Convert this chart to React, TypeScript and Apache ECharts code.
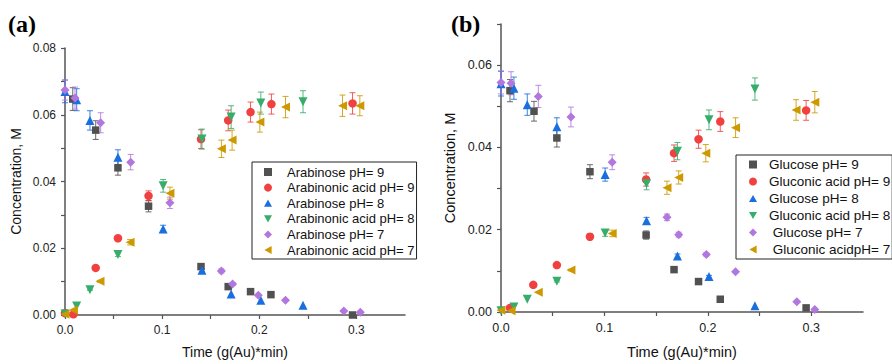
import React, { useEffect, useRef } from "react";
import * as echarts from "echarts";

const FONT = 'Arial, "Liberation Sans", sans-serif';
const COLORS = ["#515151", "#F14040", "#1A6FDF", "#37AD6B", "#B177DE", "#CC9900"];
const SYMBOLS = [
  "rect",
  "circle",
  "path://M5,0 L10,9 L0,9 Z",
  "path://M0,0 L10,0 L5,9 Z",
  "diamond",
  "path://M9,0 L9,10 L0,5 Z",
];
const SIZES = [7.5, 8.5, 9, 9, 9, 9];

// ---- Panel (a) : Arabinose ----
const namesA = [
  "Arabinose pH= 9",
  "Arabinonic acid pH= 9",
  "Arabinose pH= 8",
  "Arabinonic acid pH= 8",
  "Arabinose pH= 7",
  "Arabinonic acid pH= 7",
];
const tA9s = [0.008, 0.0316, 0.0545, 0.086, 0.140, 0.168, 0.191, 0.212, 0.296];
const cA9s = [0.0647, 0.0554, 0.0441, 0.0326, 0.0145, 0.0085, 0.0070, 0.0061, 0.0000];
const eA9s = [0.0034, 0.0028, 0.0022, 0.0017, 0.0007, 0.0004, 0.0003, 0.0003, 0];

const tA9a = [0, 0.0086, 0.0316, 0.0545, 0.086, 0.140, 0.168, 0.191, 0.2125, 0.296];
const cA9a = [0.0006, 0.0002, 0.0141, 0.0230, 0.0357, 0.0527, 0.0583, 0.0608, 0.0632, 0.0634];
const eA9a = [0, 0, 0.0005, 0.0008, 0.0015, 0.0028, 0.0031, 0.0030, 0.0030, 0.0032];

const tA8s = [0, 0.012, 0.0257, 0.0545, 0.101, 0.141, 0.171, 0.2016, 0.245];
const cA8s = [0.0670, 0.0645, 0.0583, 0.0473, 0.0258, 0.0134, 0.0063, 0.0044, 0.0029];
const eA8s = [0.0034, 0.0033, 0.0029, 0.0022, 0.0011, 0.0004, 0, 0, 0];

const tA8a = [0, 0.012, 0.0257, 0.0545, 0.101, 0.141, 0.171, 0.2016, 0.245];
const cA8a = [0.0003, 0.0027, 0.0076, 0.0181, 0.0387, 0.0527, 0.0593, 0.0635, 0.0639];
const eA8a = [0, 0, 0.0002, 0.0006, 0.0019, 0.0030, 0.0034, 0.0033, 0.0033];

const tA7s = [0, 0.0103, 0.0367, 0.0676, 0.108, 0.161, 0.1725, 0.199, 0.227, 0.287, 0.304];
const cA7s = [0.0674, 0.0650, 0.0576, 0.0458, 0.0336, 0.0132, 0.0093, 0.0059, 0.0044, 0.0012, 0.0008];
const eA7s = [0.0030, 0.0033, 0.0030, 0.0023, 0.0017, 0.0006, 0.0004, 0, 0, 0, 0];

const tA7a = [0, 0.0086, 0.036, 0.067, 0.108, 0.161, 0.172, 0.2006, 0.227, 0.2857, 0.3035];
const cA7a = [0.0002, 0.0015, 0.0101, 0.0218, 0.0365, 0.0498, 0.0524, 0.0578, 0.0623, 0.0627, 0.0627];
const eA7a = [0, 0, 0.0003, 0.0008, 0.0018, 0.0026, 0.0030, 0.0030, 0.0032, 0.0032, 0.0030];

// ---- Panel (b) : Glucose ----
const namesB = [
  "Glucose pH= 9",
  "Gluconic acid pH= 9",
  "Glucose pH= 8",
  "Gluconic acid pH= 8",
  " Glucose pH= 7",
  " Gluconic acidpH= 7",
];
const tB9s = [0.0087, 0.0319, 0.054, 0.086, 0.1403, 0.1673, 0.191, 0.212, 0.295];
const cB9s = [0.0538, 0.0488, 0.0423, 0.0341, 0.0187, 0.0103, 0.0074, 0.0031, 0.0010];
const eB9s = [0.0027, 0.0024, 0.0022, 0.0017, 0.0010, 0, 0, 0, 0];

const tB9a = [0.0087, 0.0312, 0.054, 0.086, 0.1403, 0.1673, 0.191, 0.212, 0.295];
const cB9a = [0.0010, 0.0066, 0.0114, 0.0183, 0.0322, 0.0386, 0.0420, 0.0463, 0.0490];
const eB9a = [0.0005, 0, 0.0003, 0.0007, 0.0016, 0.0020, 0.0022, 0.0024, 0.0024];

const tB8s = [0, 0.0125, 0.0254, 0.054, 0.1007, 0.1407, 0.1706, 0.2011, 0.2455];
const cB8s = [0.0555, 0.0544, 0.0504, 0.0450, 0.0334, 0.0222, 0.0136, 0.0086, 0.0015];
const eB8s = [0.0030, 0.0027, 0.0026, 0.0022, 0.0016, 0.0008, 0.0005, 0.0003, 0];

const tB8a = [0, 0.0125, 0.0254, 0.054, 0.1007, 0.1407, 0.1706, 0.2011, 0.2455];
const cB8a = [0.0003, 0.0012, 0.0031, 0.0075, 0.0192, 0.0312, 0.0391, 0.0467, 0.0542];
const eB8a = [0, 0, 0, 0.0002, 0.0008, 0.0015, 0.0021, 0.0024, 0.0027];

const tB7s = [0, 0.0097, 0.0361, 0.0676, 0.1075, 0.1605, 0.1718, 0.1985, 0.2268, 0.286, 0.3034];
const cB7s = [0.0558, 0.0556, 0.0524, 0.0474, 0.0364, 0.0230, 0.0188, 0.0140, 0.0098, 0.0025, 0.0006];
const eB7s = [0.0028, 0.0028, 0.0027, 0.0024, 0.0018, 0.0008, 0.0006, 0.0004, 0, 0, 0];

const tB7a = [0, 0.0097, 0.036, 0.0676, 0.1075, 0.1605, 0.1718, 0.198, 0.2268, 0.2853, 0.3034];
const cB7a = [0.0004, 0.0003, 0.0048, 0.0102, 0.0191, 0.0302, 0.0327, 0.0386, 0.0448, 0.0491, 0.0510];
const eB7a = [0, 0, 0, 0.0002, 0.0008, 0.0016, 0.0016, 0.0021, 0.0024, 0.0025, 0.0026];

const panelA = [
  [tA9s, cA9s, eA9s],
  [tA9a, cA9a, eA9a],
  [tA8s, cA8s, eA8s],
  [tA8a, cA8a, eA8a],
  [tA7s, cA7s, eA7s],
  [tA7a, cA7a, eA7a],
];
const panelB = [
  [tB9s, cB9s, eB9s],
  [tB9a, cB9a, eB9a],
  [tB8s, cB8s, eB8s],
  [tB8a, cB8a, eB8a],
  [tB7s, cB7s, eB7s],
  [tB7a, cB7a, eB7a],
];

function buildSeries(panel: number[][][], names: string[], axisIndex: number) {
  const out: any[] = [];
  panel.forEach(([t, c, e], i) => {
    const color = COLORS[i];
    const errData = t
      .map((x, k) => [x, c[k] - e[k], c[k] + e[k], e[k]])
      .filter((d) => d[3] > 0);
    out.push({
      type: "custom",
      name: names[i] + "_err",
      xAxisIndex: axisIndex,
      yAxisIndex: axisIndex,
      z: 1,
      silent: true,
      encode: { x: 0, y: [1, 2] },
      data: errData,
      renderItem: (params: any, api: any) => {
        const x = api.value(0);
        const lo = api.value(1);
        const hi = api.value(2);
        const p1 = api.coord([x, hi]);
        const p2 = api.coord([x, lo]);
        const w = 3;
        const st = { stroke: color, lineWidth: 1, opacity: 0.85 };
        return {
          type: "group",
          children: [
            { type: "line", shape: { x1: p1[0], y1: p1[1], x2: p2[0], y2: p2[1] }, style: st },
            { type: "line", shape: { x1: p1[0] - w, y1: p1[1], x2: p1[0] + w, y2: p1[1] }, style: st },
            { type: "line", shape: { x1: p2[0] - w, y1: p2[1], x2: p2[0] + w, y2: p2[1] }, style: st },
          ],
        };
      },
    });
    out.push({
      type: "scatter",
      name: names[i],
      xAxisIndex: axisIndex,
      yAxisIndex: axisIndex,
      z: 3,
      symbol: SYMBOLS[i],
      symbolSize: SIZES[i],
      itemStyle: { color, opacity: 1 },
      data: t.map((x, k) => [x, c[k]]),
    });
  });
  return out;
}

function xAxis(gridIndex: number, fs: number, nameGap: number) {
  return {
    type: "value",
    gridIndex,
    min: 0,
    max: 0.35,
    interval: 0.05,
    name: "Time (g(Au)*min)",
    nameLocation: "middle",
    nameGap,
    nameTextStyle: { fontFamily: FONT, fontSize: fs + 2, color: "#111" },
    splitLine: { show: false },
    axisLine: { show: true, onZero: false, lineStyle: { color: "#555", width: 1.5 } },
    axisTick: { show: true, length: 4, lineStyle: { color: "#555", width: 1.2 } },
    axisLabel: {
      fontFamily: FONT,
      fontSize: fs,
      color: "#222",
      margin: 9,
      showMaxLabel: false,
      formatter: (v: number) => (Math.round(v * 100) % 10 === 0 ? v.toFixed(1) : ""),
    },
  };
}

function yAxis(gridIndex: number, max: number, fs: number, nameGap: number) {
  return {
    type: "value",
    gridIndex,
    min: 0,
    max,
    interval: 0.01,
    name: "Concentration, M",
    nameLocation: "middle",
    nameGap,
    nameTextStyle: { fontFamily: FONT, fontSize: fs + 2, color: "#111" },
    splitLine: { show: false },
    axisLine: { show: true, onZero: false, lineStyle: { color: "#555", width: 1.5 } },
    axisTick: { show: true, length: 4, lineStyle: { color: "#555", width: 1.2 } },
    axisLabel: {
      fontFamily: FONT,
      fontSize: fs,
      color: "#222",
      margin: 9,
      formatter: (v: number) => (Math.round(v * 100) % 2 === 0 ? v.toFixed(2) : ""),
    },
  };
}

export default function App() {
  const ref = useRef<HTMLDivElement>(null);
  useEffect(() => {
    if (!ref.current) return;
    const chart = echarts.init(ref.current, undefined, { renderer: "svg" });
    const option: any = {
      animation: false,
      backgroundColor: "#fff",
      textStyle: { fontFamily: FONT },
      grid: [
        { left: 65, top: 48, width: 340, height: 272 },
        { left: 501, top: 24, width: 362, height: 292 },
      ],
      xAxis: [xAxis(0, 12, 30), xAxis(1, 12.5, 32)],
      yAxis: [yAxis(0, 0.08, 12, 42), yAxis(1, 0.07, 12.5, 44)],
      legend: [
        {
          data: namesA,
          left: 252,
          top: 162,
          orient: "vertical",
          selectedMode: false,
          padding: [3, 2, 2, 12],
          itemWidth: 8,
          itemHeight: 8,
          itemGap: 1.6,
          borderColor: "#222",
          borderWidth: 1,
          textStyle: { fontFamily: FONT, fontSize: 13, lineHeight: 14, color: "#111", padding: [0, 0, 0, 10] },
        },
        {
          data: namesB,
          left: 736,
          top: 155,
          orient: "vertical",
          selectedMode: false,
          padding: [2, 2, 2, 13],
          itemWidth: 8,
          itemHeight: 8,
          itemGap: 2,
          borderColor: "#222",
          borderWidth: 1,
          textStyle: { fontFamily: FONT, fontSize: 13.5, lineHeight: 15, color: "#111", padding: [0, 0, 0, 7] },
        },
      ],
      graphic: [
        {
          type: "text",
          left: 8,
          top: 12,
          style: { text: "(a)", font: 'bold 24px "Liberation Serif", "Times New Roman", serif', fill: "#000" },
        },
        {
          type: "text",
          left: 451,
          top: 12,
          style: { text: "(b)", font: 'bold 24px "Liberation Serif", "Times New Roman", serif', fill: "#000" },
        },
      ],
      series: [...buildSeries(panelA, namesA, 0), ...buildSeries(panelB, namesB, 1)],
    };
    chart.setOption(option);
    return () => chart.dispose();
  }, []);
  return (
    <div
      ref={ref}
      style={{ position: "fixed", left: 0, top: 0, width: 892, height: 364, background: "#fff" }}
    />
  );
}
